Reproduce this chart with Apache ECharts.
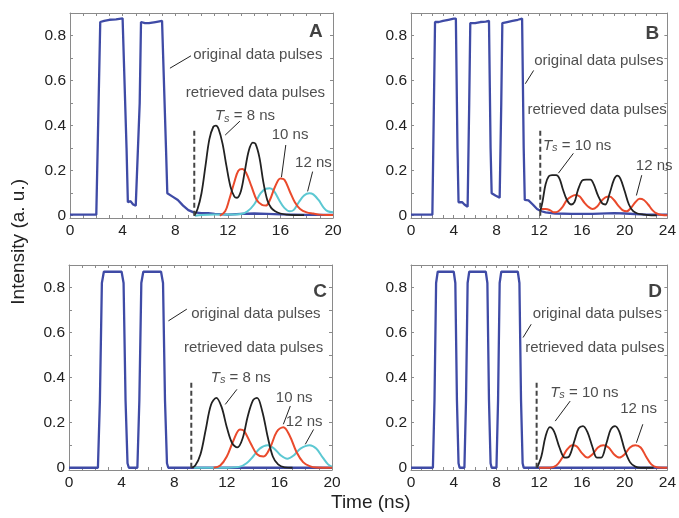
<!DOCTYPE html>
<html><head><meta charset="utf-8">
<script src="https://cdn.jsdelivr.net/npm/echarts@6/dist/echarts.min.js"></script>
<style>html,body{margin:0;padding:0;background:#fff}#c{width:679px;height:518px}</style>
</head><body><div id="c"></div>
<script>
// ---------- tick values ----------
const yLabelValues = [0, 0.2, 0.4, 0.6, 0.8];
const yTickValues = [0, 0.1, 0.2, 0.3, 0.4, 0.5, 0.6, 0.7, 0.8];
const xLabels20 = [0, 4, 8, 12, 16, 20];
const xLabels24 = [0, 4, 8, 12, 16, 20, 24];
const xTicks20 = [0,1,2,3,4,5,6,7,8,9,10,11,12,13,14,15,16,17,18,19,20];
const xTicks24 = [0,1,2,3,4,5,6,7,8,9,10,11,12,13,14,15,16,17,18,19,20,21,22,23,24];

// ---------- panel A (experiment, 2 pulses) ----------
const blueA = [[0,0.005],[1,0.005],[2.0,0.005],[2.15,0.01],[2.3,0.86],[2.6,0.865],[3.0,0.87],[3.5,0.872],[4.0,0.876],[4.15,0.876],[4.3,0.3],[4.4,0.06],[4.6,0.065],[4.8,0.05],[5.0,0.045],[5.15,0.04],[5.3,0.5],[5.4,0.86],[5.7,0.855],[6.0,0.855],[6.5,0.86],[7.0,0.865],[7.15,0.865],[7.3,0.3],[7.4,0.1],[7.8,0.085],[8.2,0.07],[8.6,0.045],[9.0,0.025],[9.4,0.015],[10,0.012],[10.5,0.012],[11,0.008],[12,0.005],[13,0.008],[14,0.01],[15,0.008],[16,0.006],[17,0.005],[18,0.004],[19,0.004],[20,0.004]];
const blackA = [[9.45,0],[9.7,0.03],[10.0,0.1],[10.3,0.22],[10.6,0.34],[10.9,0.395],[11.1,0.4],[11.3,0.385],[11.6,0.32],[11.9,0.22],[12.2,0.13],[12.5,0.085],[12.7,0.08],[13.0,0.11],[13.3,0.2],[13.6,0.29],[13.9,0.325],[14.1,0.32],[14.4,0.26],[14.7,0.15],[15.0,0.07],[15.3,0.035],[15.6,0.02],[16.0,0.01],[16.5,0.005],[17,0.003],[17.8,0.003]];
const redA = [[11.4,0],[11.8,0.02],[12.1,0.07],[12.5,0.15],[12.8,0.2],[13.1,0.208],[13.4,0.19],[13.8,0.13],[14.2,0.07],[14.6,0.048],[14.9,0.045],[15.2,0.07],[15.6,0.13],[16.0,0.165],[16.3,0.16],[16.7,0.11],[17.1,0.06],[17.5,0.03],[18,0.015],[18.5,0.01],[19,0.005],[19.5,0.003],[20,0.003]];
const cyanA = [[9.5,0],[10,0.003],[11,0.005],[12,0.005],[13,0.008],[13.5,0.02],[14,0.05],[14.5,0.1],[14.9,0.12],[15.2,0.122],[15.5,0.11],[15.9,0.07],[16.3,0.035],[16.7,0.02],[17.0,0.025],[17.4,0.06],[17.8,0.09],[18.2,0.1],[18.5,0.095],[18.9,0.07],[19.3,0.035],[19.6,0.02],[20,0.015]];
const dashA = [[9.45,0],[9.45,0.39]];

// ---------- panel B (experiment, 3 pulses) ----------
const blueB = [[0,0.005],[2.0,0.005],[2.1,0.01],[2.25,0.86],[2.6,0.86],[3.0,0.865],[3.5,0.87],[4.0,0.875],[4.2,0.875],[4.35,0.3],[4.45,0.06],[4.8,0.06],[5.0,0.05],[5.3,0.04],[5.45,0.5],[5.55,0.855],[6.0,0.855],[6.5,0.86],[7.0,0.862],[7.3,0.865],[7.45,0.3],[7.55,0.1],[7.9,0.09],[8.3,0.08],[8.45,0.5],[8.55,0.855],[9.0,0.86],[9.5,0.865],[10.0,0.87],[10.4,0.875],[10.55,0.3],[10.65,0.07],[11.0,0.068],[11.4,0.05],[11.8,0.03],[12.2,0.02],[12.6,0.015],[13.5,0.01],[15,0.008],[17,0.008],[19,0.012],[20,0.01],[22,0.005],[24,0.005]];
const blackB = [[12.1,0.02],[12.3,0.06],[12.6,0.14],[12.9,0.175],[13.2,0.18],[13.6,0.18],[13.9,0.165],[14.2,0.12],[14.6,0.07],[15.0,0.05],[15.3,0.06],[15.6,0.11],[16.0,0.155],[16.4,0.16],[16.8,0.16],[17.1,0.14],[17.5,0.09],[17.9,0.055],[18.2,0.05],[18.6,0.1],[19.0,0.16],[19.3,0.178],[19.6,0.165],[20.0,0.11],[20.4,0.05],[20.8,0.02],[21.2,0.01],[21.8,0.005],[22.5,0.002],[23,0.002]];
const redB = [[12.2,0.03],[12.6,0.03],[13.0,0.025],[13.4,0.015],[13.8,0.02],[14.2,0.04],[14.6,0.07],[15.0,0.085],[15.4,0.092],[15.8,0.085],[16.2,0.06],[16.6,0.04],[17.0,0.03],[17.4,0.04],[17.8,0.065],[18.2,0.082],[18.6,0.085],[19.0,0.07],[19.4,0.045],[19.8,0.025],[20.2,0.02],[20.6,0.035],[21.0,0.06],[21.4,0.075],[21.8,0.07],[22.2,0.05],[22.6,0.025],[23.0,0.01],[23.5,0.003],[24,0.002]];
const dashB = [[12.1,0],[12.1,0.39]];

// ---------- panel C (simulation, 2 pulses) ----------
const blueC = [[0,0],[2.2,0],[2.35,0.3],[2.5,0.82],[2.65,0.87],[4.0,0.87],[4.15,0.82],[4.3,0.3],[4.45,0.02],[4.55,0],[5.2,0],[5.35,0.3],[5.5,0.82],[5.65,0.87],[7.0,0.87],[7.15,0.82],[7.3,0.3],[7.45,0.02],[7.55,0],[20,0]];
const blackC = [[9.3,0],[9.6,0.01],[10.0,0.06],[10.4,0.17],[10.8,0.28],[11.2,0.31],[11.6,0.27],[12.0,0.18],[12.4,0.11],[12.8,0.09],[13.2,0.13],[13.6,0.23],[14.0,0.3],[14.3,0.31],[14.7,0.25],[15.1,0.14],[15.5,0.05],[15.9,0.015],[16.4,0.002],[17,0]];
const redC = [[11.0,0],[11.5,0.01],[12.0,0.05],[12.5,0.12],[13.0,0.17],[13.3,0.165],[13.8,0.11],[14.3,0.06],[14.8,0.05],[15.3,0.09],[15.8,0.16],[16.3,0.18],[16.8,0.14],[17.3,0.07],[17.8,0.025],[18.3,0.007],[18.8,0.001],[20,0]];
const cyanC = [[9.5,0],[12,0],[13,0.005],[13.5,0.02],[14,0.05],[14.5,0.085],[15.1,0.1],[15.6,0.085],[16.1,0.055],[16.6,0.04],[17.1,0.055],[17.6,0.085],[18.3,0.1],[18.8,0.085],[19.3,0.045],[19.7,0.015],[20,0.005]];
const dashC = [[9.3,0],[9.3,0.38]];

// ---------- panel D (simulation, 3 pulses) ----------
const blueD = [[0,0],[2.05,0],[2.2,0.3],[2.35,0.82],[2.5,0.87],[4.0,0.87],[4.15,0.82],[4.3,0.3],[4.45,0.02],[4.55,0],[5.0,0],[5.15,0.3],[5.3,0.82],[5.45,0.87],[7.0,0.87],[7.15,0.82],[7.3,0.3],[7.45,0.02],[7.55,0],[8.0,0],[8.15,0.3],[8.3,0.82],[8.45,0.87],[10.0,0.87],[10.15,0.82],[10.3,0.3],[10.45,0.02],[10.55,0],[24,0]];
const blackD = [[11.8,0],[12.2,0.05],[12.6,0.14],[13.0,0.18],[13.4,0.16],[13.9,0.09],[14.4,0.045],[14.8,0.05],[15.3,0.12],[15.7,0.175],[16.1,0.185],[16.5,0.16],[17.0,0.09],[17.4,0.045],[17.8,0.045],[18.3,0.11],[18.7,0.17],[19.1,0.185],[19.5,0.16],[20.0,0.08],[20.5,0.025],[21.0,0.005],[21.5,0],[22.7,0]];
const redD = [[12,0],[13,0],[13.6,0.01],[14.1,0.04],[14.6,0.08],[15.1,0.1],[15.5,0.095],[16.0,0.065],[16.5,0.045],[17.0,0.06],[17.5,0.09],[18.0,0.1],[18.5,0.09],[19.0,0.06],[19.5,0.045],[20.0,0.06],[20.5,0.09],[21.0,0.1],[21.5,0.09],[22.0,0.05],[22.5,0.015],[23.0,0.002],[24,0]];
const dashD = [[11.76,0],[11.76,0.385]];

// ---------- annotation texts (anchored in data units) ----------
const textsA = [[9.33,0.716,'orig'],[8.77,0.545,'retr'],[10.98,0.442,'Ts8'],[15.3,0.358,'10'],[17.08,0.236,'12'],[18.7,0.815,'A']];
const textsB = [[11.48,0.687,'orig'],[10.86,0.471,'retr'],[12.3,0.311,'Ts10'],[21.0,0.222,'12'],[22.6,0.81,'B']];
const textsC = [[9.26,0.681,'orig'],[8.7,0.53,'retr'],[10.74,0.4,'Ts8'],[15.69,0.311,'10'],[16.45,0.203,'12'],[19.1,0.78,'C']];
const textsD = [[11.34,0.681,'orig'],[10.64,0.532,'retr'],[12.98,0.333,'Ts10'],[19.54,0.262,'12'],[22.85,0.78,'D']];
const leadersA = [[7.6,0.655,9.2,0.71],[11.8,0.358,12.92,0.42],[16.08,0.171,16.41,0.314],[18.07,0.108,18.45,0.196]];
const leadersB = [[10.7,0.586,11.48,0.645],[13.8,0.189,15.2,0.277],[21.1,0.09,21.6,0.18]];
const leadersC = [[7.56,0.652,8.96,0.704],[11.88,0.281,12.77,0.348],[16.3,0.193,16.83,0.274],[17.97,0.104,18.6,0.17]];
const leadersD = [[10.49,0.578,11.25,0.637],[13.5,0.207,14.9,0.296],[21.1,0.111,21.7,0.193]];

// ---------- build ----------
const FONT = '"Liberation Sans", Arial, Helvetica, sans-serif';
const TXT = '#222';
const COLORS = {blue:'#3f4ba6', black:'#222222', red:'#ea4a2c', cyan:'#5cc8d2'};
const textMap = {
  orig: 'original data pulses',
  retr: 'retrieved data pulses',
  Ts8: '{i|T}{s|s}{n| = 8 ns}',
  Ts10: '{i|T}{s|s}{n| = 10 ns}',
  '10': '10 ns',
  '12': '12 ns'
};

const panels = [
  {grid:{left:70, top:13, width:263, height:205}, xmax:20, xl:xLabels20, xt:xTicks20, blue:blueA, cyan:cyanA, red:redA, black:blackA, dash:dashA, texts:textsA, leaders:leadersA},
  {grid:{left:411, top:13, width:261, height:205}, xmax:24, xl:xLabels24, xt:xTicks24, blue:blueB, cyan:null, red:redB, black:blackB, dash:dashB, texts:textsB, leaders:leadersB},
  {grid:{left:69, top:265, width:263, height:205}, xmax:20, xl:xLabels20, xt:xTicks20, blue:blueC, cyan:cyanC, red:redC, black:blackC, dash:dashC, texts:textsC, leaders:leadersC},
  {grid:{left:411, top:265, width:261, height:205}, xmax:24, xl:xLabels24, xt:xTicks24, blue:blueD, cyan:null, red:redD, black:blackD, dash:dashD, texts:textsD, leaders:leadersD}
];

const grid = [], xAxis = [], yAxis = [], series = [];
const axisLine = {show:true, onZero:false, lineStyle:{color:'#8a8a8a', width:1}};
const tickStyle = {color:'#8a8a8a'};
panels.forEach((p, i) => {
  grid.push(Object.assign({containLabel:false}, p.grid));
  const common = {type:'value', gridIndex:i, min:0, max:p.xmax, splitLine:{show:false}, axisLine};
  xAxis.push(Object.assign({}, common, {position:'bottom',
    axisTick:{show:true, inside:true, length:3, customValues:p.xt, lineStyle:tickStyle},
    axisLabel:{show:true, customValues:p.xl, margin:5, fontSize:15.5, color:TXT, fontFamily:FONT}}));
  xAxis.push(Object.assign({}, common, {position:'top',
    axisTick:{show:true, inside:true, length:3, customValues:p.xt, lineStyle:tickStyle},
    axisLabel:{show:false}}));
  const ycommon = {type:'value', gridIndex:i, min:-0.01, max:0.9, splitLine:{show:false}, axisLine};
  yAxis.push(Object.assign({}, ycommon, {position:'left',
    axisTick:{show:true, inside:true, length:3, customValues:yTickValues, lineStyle:tickStyle},
    axisLabel:{show:true, customValues:yLabelValues, margin:4, fontSize:15.5, color:TXT, fontFamily:FONT}}));
  yAxis.push(Object.assign({}, ycommon, {position:'right',
    axisTick:{show:true, inside:true, length:3, customValues:yTickValues, lineStyle:tickStyle},
    axisLabel:{show:false}}));

  const xi = 2*i, yi = 2*i;
  const ln = (data, color, width, smooth, extra) => Object.assign({
    type:'line', xAxisIndex:xi, yAxisIndex:yi, data, showSymbol:false, symbol:'none',
    smooth, lineStyle:{color, width}, silent:true, animation:false}, extra||{});
  series.push(ln(p.blue, COLORS.blue, 2.3, false));
  if (p.cyan) series.push(ln(p.cyan, COLORS.cyan, 2, 0.35));
  series.push(ln(p.red, COLORS.red, 2, 0.35));
  series.push(ln(p.black, COLORS.black, 1.8, 0.35));
  series.push(ln(p.dash, '#444', 2, false, {lineStyle:{color:'#444', width:2, type:[5,3]}}));
  p.leaders.forEach(l => series.push(ln([[l[0],l[1]],[l[2],l[3]]], '#222', 1, false)));

  const labelData = p.texts.map(t => {
    const key = t[2];
    const isLetter = key.length === 1 && /[A-D]/.test(key);
    return {
      value:[t[0], t[1]],
      label: isLetter ? {show:true, position:'inside', formatter:key, fontSize:19, fontWeight:'bold', color:'#111', fontFamily:FONT}
        : {show:true, position:'right', distance:0, formatter:textMap[key], fontSize:15, color:TXT, fontFamily:FONT,
           rich:{i:{fontStyle:'italic', fontSize:15, color:TXT, fontFamily:FONT},
                 s:{fontStyle:'italic', fontSize:11, color:TXT, fontFamily:FONT, padding:[5,0,0,0]},
                 n:{fontSize:15, color:TXT, fontFamily:FONT}}}
    };
  });
  series.push({type:'scatter', xAxisIndex:xi, yAxisIndex:yi, data:labelData, symbolSize:1,
    itemStyle:{color:'rgba(0,0,0,0)'}, silent:true, animation:false});
});

const chart = echarts.init(document.getElementById('c'), null, {renderer:'canvas'});
chart.setOption({
  backgroundColor:'#ffffff',
  animation:false,
  grid, xAxis, yAxis, series,
  graphic:[
    {type:'text', left:9, top:179, rotation:Math.PI/2, style:{text:'Intensity (a. u.)', fontSize:19, fill:TXT, fontFamily:FONT}},
    {type:'text', left:331, top:493, style:{text:'Time (ns)', fontSize:19, fill:TXT, fontFamily:FONT}}
  ]
});
</script>
</body></html>
